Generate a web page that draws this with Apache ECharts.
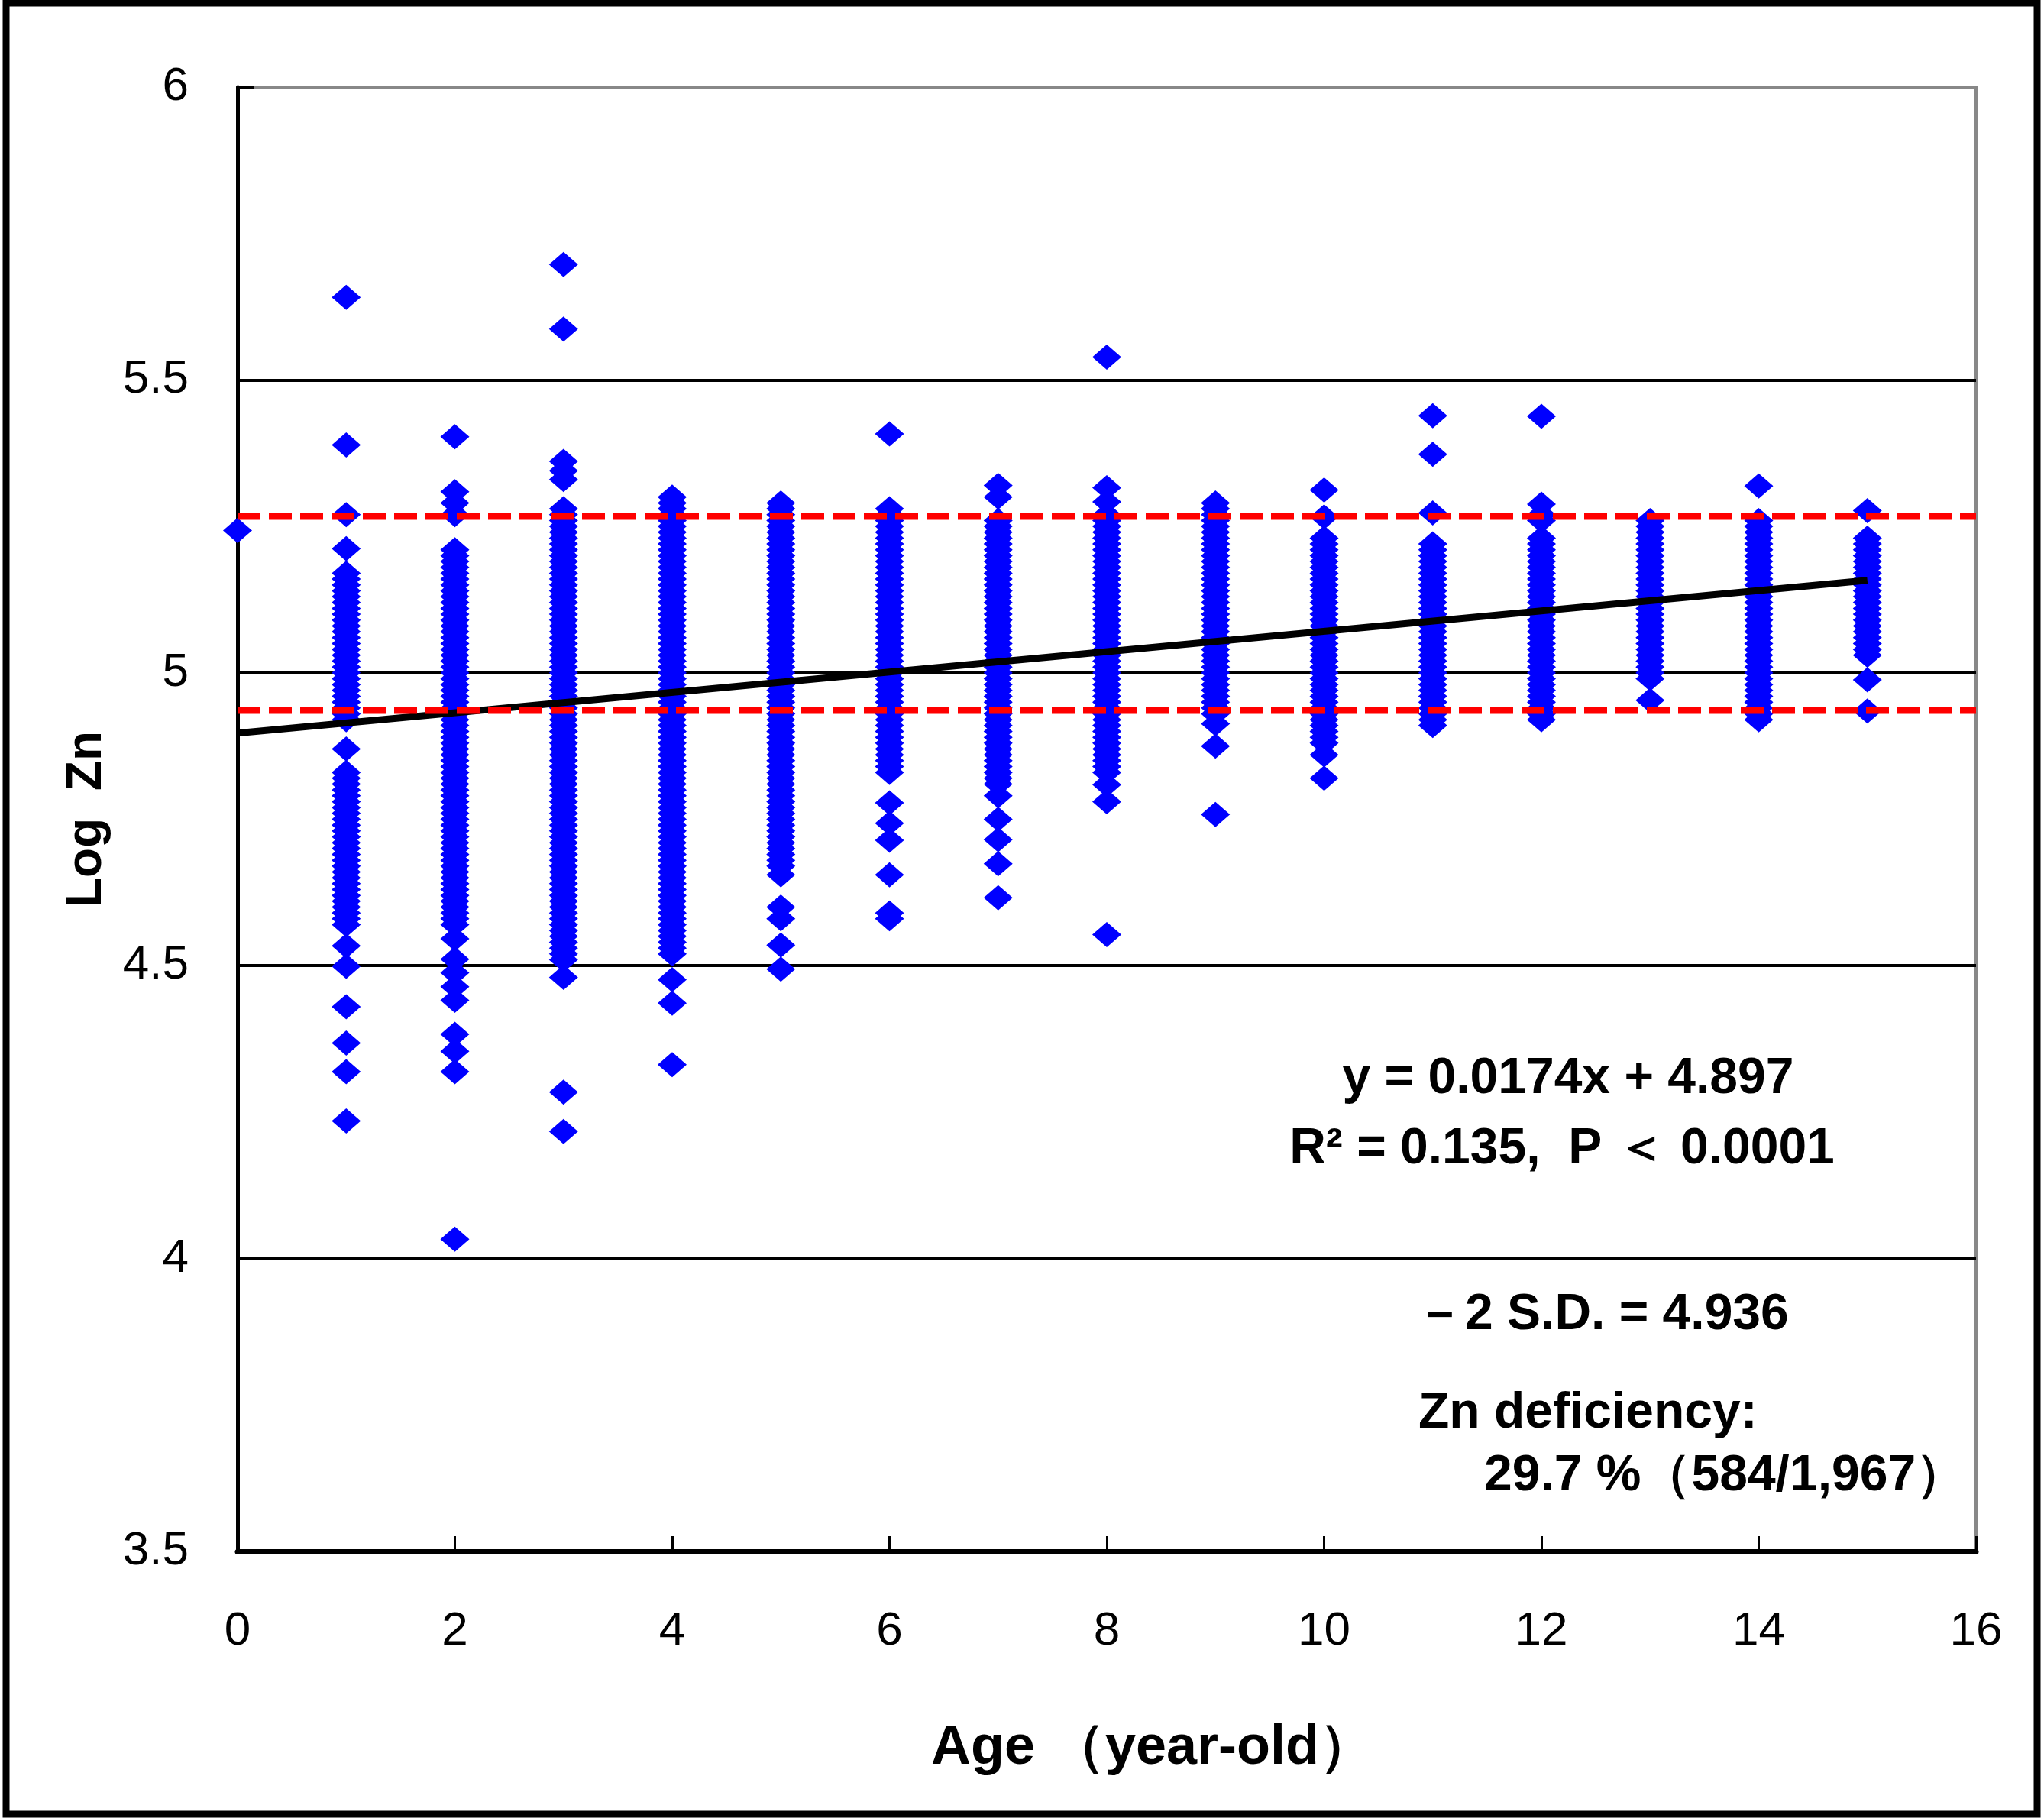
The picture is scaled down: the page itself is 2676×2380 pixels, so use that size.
<!DOCTYPE html>
<html>
<head>
<meta charset="utf-8">
<script src="https://cdn.jsdelivr.net/npm/echarts@6/dist/echarts.min.js"></script>
<style>
  html, body { margin: 0; padding: 0; background: #fff; }
  #chart { width: 2676px; height: 2380px; }
</style>
</head>
<body>
<div id="chart"></div>
<script>
// ages on the x axis
const ages = [0, 1, 2, 3, 4, 5, 6, 7, 8, 9, 10, 11, 12, 13, 14, 15]

// Log Zn values (dense runs read at 0.01 steps)
const age0 = [5.243]
const age1 = [5.641, 5.389, 5.27, 5.212,
  5.17, 5.16, 5.15, 5.14, 5.13, 5.12, 5.11, 5.10, 5.09, 5.08, 5.07, 5.06, 5.05, 5.04, 5.03, 5.02, 5.01,
  5.00, 4.99, 4.98, 4.97, 4.96, 4.95, 4.94, 4.93, 4.92, 4.87,
  4.83, 4.82, 4.81, 4.80, 4.79, 4.78, 4.77, 4.76, 4.75, 4.74, 4.73, 4.72, 4.71, 4.70, 4.69, 4.68, 4.67,
  4.66, 4.65, 4.64, 4.63, 4.62, 4.61, 4.60, 4.59, 4.58, 4.57, 4.534, 4.499, 4.43, 4.368, 4.319, 4.235]
const age2 = [5.403, 5.309, 5.29, 5.27,
  5.21, 5.20, 5.19, 5.18, 5.17, 5.16, 5.15, 5.14, 5.13, 5.12, 5.11, 5.10, 5.09, 5.08, 5.07, 5.06, 5.05,
  5.04, 5.03, 5.02, 5.01, 5.00, 4.99, 4.98, 4.97, 4.96, 4.95, 4.94, 4.93, 4.92, 4.91, 4.90, 4.89, 4.88,
  4.87, 4.86, 4.85, 4.84, 4.83, 4.82, 4.81, 4.80, 4.79, 4.78, 4.77, 4.76, 4.75, 4.74, 4.73, 4.72, 4.71,
  4.70, 4.69, 4.68, 4.67, 4.66, 4.65, 4.64, 4.63, 4.62, 4.61, 4.60, 4.59, 4.58, 4.57,
  4.546, 4.511, 4.488, 4.464, 4.441, 4.383, 4.354, 4.319, 4.033]
const age3 = [5.697, 5.587, 5.361, 5.345, 5.33,
  5.28, 5.27, 5.26, 5.25, 5.24, 5.23, 5.22, 5.21, 5.20, 5.19, 5.18, 5.17, 5.16, 5.15, 5.14, 5.13, 5.12,
  5.11, 5.10, 5.09, 5.08, 5.07, 5.06, 5.05, 5.04, 5.03, 5.02, 5.01, 5.00, 4.99, 4.98, 4.97, 4.96, 4.95,
  4.94, 4.93, 4.92, 4.91, 4.90, 4.89, 4.88, 4.87, 4.86, 4.85, 4.84, 4.83, 4.82, 4.81, 4.80, 4.79, 4.78,
  4.77, 4.76, 4.75, 4.74, 4.73, 4.72, 4.71, 4.70, 4.69, 4.68, 4.67, 4.66, 4.65, 4.64, 4.63, 4.62, 4.61,
  4.60, 4.59, 4.58, 4.57, 4.56, 4.55, 4.54, 4.53, 4.52, 4.51, 4.48, 4.284, 4.217]
const age4 = [5.30, 5.29, 5.28, 5.27, 5.26, 5.25, 5.24, 5.23, 5.22, 5.21, 5.20, 5.19, 5.18, 5.17, 5.16,
  5.15, 5.14, 5.13, 5.12, 5.11, 5.10, 5.09, 5.08, 5.07, 5.06, 5.05, 5.04, 5.03, 5.02, 5.01, 5.00, 4.99,
  4.98, 4.97, 4.96, 4.95, 4.94, 4.93, 4.92, 4.91, 4.90, 4.89, 4.88, 4.87, 4.86, 4.85, 4.84, 4.83, 4.82,
  4.81, 4.80, 4.79, 4.78, 4.77, 4.76, 4.75, 4.74, 4.73, 4.72, 4.71, 4.70, 4.69, 4.68, 4.67, 4.66, 4.65,
  4.64, 4.63, 4.62, 4.61, 4.60, 4.59, 4.58, 4.57, 4.56, 4.55, 4.54, 4.53, 4.52, 4.476, 4.436, 4.331]
const age5 = [5.29, 5.28, 5.27, 5.26, 5.25, 5.24, 5.23, 5.22, 5.21, 5.20, 5.19, 5.18, 5.17, 5.16, 5.15,
  5.14, 5.13, 5.12, 5.11, 5.10, 5.09, 5.08, 5.07, 5.06, 5.05, 5.04, 5.03, 5.02, 5.01, 5.00, 4.99, 4.98,
  4.97, 4.96, 4.95, 4.94, 4.93, 4.92, 4.91, 4.90, 4.89, 4.88, 4.87, 4.86, 4.85, 4.84, 4.83, 4.82, 4.81,
  4.80, 4.79, 4.78, 4.77, 4.76, 4.75, 4.74, 4.73, 4.72, 4.71, 4.70, 4.69, 4.68, 4.67, 4.655, 4.60, 4.58,
  4.535, 4.494]
const age6 = [5.408, 5.28, 5.27, 5.26, 5.25, 5.24, 5.23, 5.22, 5.21, 5.20, 5.19, 5.18, 5.17, 5.16, 5.15,
  5.14, 5.13, 5.12, 5.11, 5.10, 5.09, 5.08, 5.07, 5.06, 5.05, 5.04, 5.03, 5.02, 5.01, 5.00, 4.99, 4.98,
  4.97, 4.96, 4.95, 4.94, 4.93, 4.92, 4.91, 4.90, 4.89, 4.88, 4.87, 4.86, 4.85, 4.84, 4.83, 4.778, 4.743,
  4.714, 4.655, 4.59, 4.58]
const age7 = [5.32, 5.30, 5.26, 5.25, 5.24, 5.23, 5.22, 5.21, 5.20, 5.19, 5.18, 5.17, 5.16, 5.15, 5.14,
  5.13, 5.12, 5.11, 5.10, 5.09, 5.08, 5.07, 5.06, 5.05, 5.04, 5.03, 5.02, 5.01, 5.00, 4.99, 4.98, 4.97,
  4.96, 4.95, 4.94, 4.93, 4.92, 4.91, 4.90, 4.89, 4.88, 4.87, 4.86, 4.85, 4.84, 4.83, 4.82, 4.81, 4.79,
  4.75, 4.715, 4.674, 4.616]
const age8 = [5.539, 5.316, 5.292, 5.27, 5.26, 5.25, 5.24, 5.23, 5.22, 5.21, 5.20, 5.19, 5.18, 5.17, 5.16,
  5.15, 5.14, 5.13, 5.12, 5.11, 5.10, 5.09, 5.08, 5.07, 5.06, 5.05, 5.04, 5.03, 5.02, 5.01, 5.00, 4.99,
  4.98, 4.97, 4.96, 4.95, 4.94, 4.93, 4.92, 4.91, 4.90, 4.89, 4.88, 4.87, 4.86, 4.85, 4.84, 4.83, 4.809,
  4.78, 4.553]
const age9 = [5.29, 5.28, 5.27, 5.26, 5.25, 5.24, 5.23, 5.22, 5.21, 5.20, 5.19, 5.18, 5.17, 5.16, 5.15,
  5.14, 5.13, 5.12, 5.11, 5.10, 5.09, 5.08, 5.07, 5.06, 5.05, 5.04, 5.03, 5.02, 5.01, 5.00, 4.99, 4.98,
  4.97, 4.96, 4.95, 4.94, 4.93, 4.913, 4.875, 4.758]
const age10 = [5.312, 5.266, 5.23, 5.22, 5.21, 5.20, 5.19, 5.18, 5.17, 5.16, 5.15, 5.14, 5.13, 5.12, 5.11,
  5.10, 5.09, 5.08, 5.07, 5.06, 5.05, 5.04, 5.03, 5.02, 5.01, 5.00, 4.99, 4.98, 4.97, 4.96, 4.95, 4.94,
  4.93, 4.92, 4.91, 4.90, 4.89, 4.88, 4.86, 4.82]
const age11 = [5.439, 5.373, 5.273, 5.22, 5.21, 5.20, 5.19, 5.18, 5.17, 5.16, 5.15, 5.14, 5.13, 5.12, 5.11,
  5.10, 5.09, 5.08, 5.07, 5.06, 5.05, 5.04, 5.03, 5.02, 5.01, 5.00, 4.99, 4.98, 4.97, 4.96, 4.95, 4.94,
  4.93, 4.92, 4.91]
const age12 = [5.438, 5.288, 5.27, 5.26, 5.23, 5.22, 5.21, 5.20, 5.19, 5.18, 5.17, 5.16, 5.15, 5.14, 5.13,
  5.12, 5.11, 5.10, 5.09, 5.08, 5.07, 5.06, 5.05, 5.04, 5.03, 5.02, 5.01, 5.00, 4.99, 4.98, 4.97, 4.96,
  4.95, 4.94, 4.93, 4.92]
const age13 = [5.26, 5.25, 5.24, 5.23, 5.22, 5.21, 5.20, 5.19, 5.18, 5.17, 5.16, 5.15, 5.14, 5.13, 5.12,
  5.11, 5.10, 5.09, 5.08, 5.07, 5.06, 5.05, 5.04, 5.03, 5.02, 5.01, 5.00, 4.99, 4.953]
const age14 = [5.319, 5.26, 5.25, 5.24, 5.23, 5.22, 5.21, 5.20, 5.19, 5.18, 5.17, 5.16, 5.15, 5.14, 5.13,
  5.12, 5.11, 5.10, 5.09, 5.08, 5.07, 5.06, 5.05, 5.04, 5.03, 5.02, 5.01, 5.00, 4.99, 4.98, 4.97, 4.96,
  4.95, 4.94, 4.93, 4.92]
const age15 = [5.277, 5.23, 5.22, 5.21, 5.20, 5.19, 5.18, 5.17, 5.16, 5.15, 5.14, 5.13, 5.12, 5.11, 5.10,
  5.09, 5.08, 5.07, 5.06, 5.05, 5.04, 5.03, 4.988, 4.935]
const znByAge = [age0, age1, age2, age3, age4, age5, age6, age7, age8, age9, age10, age11, age12, age13, age14, age15]

// regression line end points and the red reference lines
const trendX = [0, 15]
const trendY = [4.897, 5.158]
const refLines = [5.267, 4.936]

// annotation texts
const eqText = 'y = 0.0174x + 4.897'
const r2Text = 'R² = 0.135,  P ＜ 0.0001'
const sdText = '－2 S.D. = 4.936'
const defText = 'Zn deficiency:'
const pctText = '29.7 %（584/1,967）'

const chart = echarts.init(document.getElementById('chart'), null, { renderer: 'canvas' })

const points = []
znByAge.forEach((vals, i) => {
  vals.forEach(v => points.push([ages[i], v]))
})

const FONT = "'Liberation Sans', Arial, sans-serif"
const annoFont = 'bold 66px ' + FONT

const refSeries = refLines.map(v => ({
  type: 'line',
  data: [[0, v], [16, v]],
  symbol: 'none',
  silent: true,
  z: 4,
  lineStyle: { color: '#ff0000', width: 9, type: [30, 11] }
}))

const option = {
  backgroundColor: '#ffffff',
  animation: false,
  grid: {
    left: 311, right: 89, top: 114, bottom: 349,
    show: true, borderColor: '#888888', borderWidth: 4, backgroundColor: 'transparent'
  },
  xAxis: {
    type: 'value',
    min: 0, max: 16, interval: 2,
    name: 'Age （year-old）',
    nameLocation: 'middle',
    nameGap: 222,
    nameTextStyle: { fontFamily: FONT, fontSize: 72, fontWeight: 'bold', color: '#000', padding: [0, 0, 0, 120] },
    axisLine: { show: true, onZero: false, lineStyle: { color: '#000', width: 7 } },
    axisTick: { show: true, inside: true, length: 20, lineStyle: { color: '#000', width: 3 } },
    axisLabel: { margin: 74, fontFamily: FONT, fontSize: 62, color: '#000' },
    splitLine: { show: false }
  },
  yAxis: {
    type: 'value',
    min: 3.5, max: 6, interval: 0.5,
    name: 'Log  Zn',
    nameLocation: 'middle',
    nameGap: 165,
    nameTextStyle: { fontFamily: FONT, fontSize: 64, fontWeight: 'bold', color: '#000' },
    axisLine: { show: true, onZero: false, lineStyle: { color: '#000', width: 5 } },
    axisTick: { show: true, inside: true, length: 22, lineStyle: { color: '#000', width: 4 } },
    axisLabel: { margin: 64, fontFamily: FONT, fontSize: 62, color: '#000' },
    splitLine: { show: true, showMinLine: false, showMaxLine: false, lineStyle: { color: '#000', width: 4 } }
  },
  series: [
    {
      type: 'scatter',
      data: points,
      symbol: 'diamond',
      symbolSize: [38, 33],
      itemStyle: { color: '#0000ff', opacity: 1 },
      z: 2
    },
    {
      type: 'line',
      data: trendX.map((x, i) => [x, trendY[i]]),
      symbol: 'none',
      silent: true,
      z: 3,
      lineStyle: { color: '#000', width: 9 }
    },
    ...refSeries
  ],
  graphic: [
    {
      type: 'rect', silent: true, z: 100,
      shape: { x: 8, y: 4, width: 2659, height: 2371 },
      style: { fill: 'none', stroke: '#000', lineWidth: 9 }
    },
    { type: 'text', x: 2053, y: 1413, style: { text: eqText, font: annoFont, fill: '#000', align: 'center', verticalAlign: 'middle' } },
    { type: 'text', x: 2045, y: 1505, style: { text: r2Text, font: annoFont, fill: '#000', align: 'center', verticalAlign: 'middle' } },
    { type: 'text', x: 1852, y: 1722, style: { text: sdText, font: annoFont, fill: '#000', align: 'left', verticalAlign: 'middle' } },
    { type: 'text', x: 1857, y: 1851, style: { text: defText, font: annoFont, fill: '#000', align: 'left', verticalAlign: 'middle' } },
    { type: 'text', x: 1943, y: 1933, style: { text: pctText, font: annoFont, fill: '#000', align: 'left', verticalAlign: 'middle' } }
  ]
}

chart.setOption(option)
</script>
</body>
</html>
